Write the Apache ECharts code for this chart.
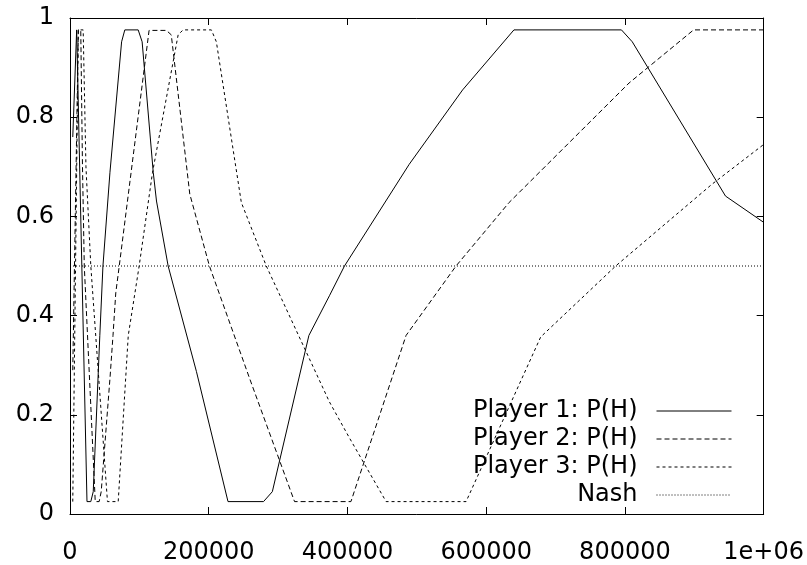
<!DOCTYPE html>
<html>
<head>
<meta charset="utf-8">
<script src="https://cdn.jsdelivr.net/npm/echarts@6/dist/echarts.min.js"></script>
<style>
html,body{margin:0;padding:0;background:#fff;}
#chart{width:807px;height:565px;}
</style>
</head>
<body>
<div id="chart"></div>
<script>
var seriesNames = ['Player 1: P(H)', 'Player 2: P(H)', 'Player 3: P(H)', 'Nash'];

var p1X = [4000, 9600, 24500, 30000, 33500, 43000, 47500, 57600, 74400, 79000, 98300, 104000, 120000, 124700, 141500, 182300, 227800, 279000, 291700, 344400, 374000, 395700, 489000, 566000, 640000, 795000, 810600, 945000, 1000000];
var p1Y = [0.76, 0.976, 0.025, 0.025, 0.045, 0.36, 0.5, 0.689, 0.952, 0.976, 0.976, 0.952, 0.689, 0.631, 0.5, 0.287, 0.025, 0.025, 0.045, 0.36, 0.44, 0.5, 0.705, 0.855, 0.976, 0.976, 0.952, 0.641, 0.588];

var p2X = [4000, 12000, 15500, 18000, 20600, 36400, 42000, 45000, 57600, 62000, 66000, 71000, 114000, 139000, 146000, 172700, 201000, 259000, 323700, 405000, 484500, 556500, 633000, 806000, 899000, 1000000];
var p2Y = [0.29, 0.976, 0.976, 0.7, 0.5, 0.025, 0.025, 0.045, 0.273, 0.36, 0.446, 0.5, 0.975, 0.975, 0.966, 0.645, 0.5, 0.273, 0.025, 0.025, 0.36, 0.5, 0.628, 0.869, 0.976, 0.976];

var p3X = [4000, 12000, 19000, 23000, 30000, 54000, 69500, 84000, 99700, 119000, 155900, 163000, 203800, 211000, 247000, 283000, 374000, 403000, 455700, 571000, 678600, 786700, 925600, 1000000];
var p3Y = [0.025, 0.976, 0.976, 0.7, 0.5, 0.025, 0.025, 0.36, 0.5, 0.689, 0.966, 0.976, 0.976, 0.952, 0.628, 0.5, 0.226, 0.153, 0.025, 0.025, 0.357, 0.5, 0.665, 0.745];

var nashX = [0, 1000000];
var nashY = [0.5, 0.5];

var xTickLabels = ['0', '200000', '400000', '600000', '800000', '1e+06'];
var yTickLabels = ['0', '0.2', '0.4', '0.6', '0.8', '1'];

function zip(xs, ys) {
  var out = [];
  for (var i = 0; i < xs.length; i++) out.push([xs[i], ys[i]]);
  return out;
}

var FONT = 'DejaVu Sans';
var chart = echarts.init(document.getElementById('chart'), null, {renderer: 'canvas'});

var axisLineStyle = {color: '#000', width: 1};
function xAxisDef(pos, showLabels) {
  return {
    type: 'value', position: pos, min: 0, max: 1000000, interval: 200000,
    axisLine: {show: true, onZero: false, lineStyle: axisLineStyle},
    axisTick: {show: true, inside: true, length: 7, lineStyle: axisLineStyle},
    splitLine: {show: false},
    axisLabel: {
      show: showLabels, margin: 27, color: '#000', fontFamily: FONT, fontSize: 24,
      formatter: function (v, i) { return xTickLabels[Math.round(v / 200000)]; }
    }
  };
}
function yAxisDef(pos, showLabels) {
  return {
    type: 'value', position: pos, min: 0, max: 1, interval: 0.2,
    axisLine: {show: true, onZero: false, lineStyle: axisLineStyle},
    axisTick: {show: true, inside: true, length: 7, lineStyle: axisLineStyle},
    splitLine: {show: false},
    axisLabel: {
      show: showLabels, margin: 16, color: '#000', fontFamily: FONT, fontSize: 24,
      formatter: function (v) { return yTickLabels[Math.round(v / 0.2)]; }
    }
  };
}

var lineTypes = ['solid', [5, 3], [3, 3], [1, 2]];
var datas = [zip(p1X, p1Y), zip(p2X, p2Y), zip(p3X, p3Y), zip(nashX, nashY)];
var legendTops = [399, 427, 455, 483];

var series = [];
var legends = [];
for (var k = 0; k < 4; k++) {
  series.push({
    name: seriesNames[k], type: 'line', data: datas[k],
    xAxisIndex: 0, yAxisIndex: 0,
    symbol: 'none', smooth: false, silent: true,
    lineStyle: {color: '#000', width: 1, type: lineTypes[k]},
    itemStyle: {color: '#000'}
  });
  legends.push({
    data: [seriesNames[k]], orient: 'vertical', align: 'right',
    right: 75, top: legendTops[k], padding: 0,
    itemWidth: 75, itemHeight: 14, selectedMode: false,
    itemStyle: {opacity: 0},
    lineStyle: {color: '#000', width: 1, type: lineTypes[k], opacity: 1},
    textStyle: {color: '#000', fontFamily: FONT, fontSize: 24, padding: [0, 14, 0, 0]}
  });
}

chart.setOption({
  animation: false,
  backgroundColor: '#fff',
  grid: {left: 70, right: 42, top: 18, bottom: 49, containLabel: false},
  xAxis: [xAxisDef('bottom', true), xAxisDef('top', false)],
  yAxis: [yAxisDef('left', true), yAxisDef('right', false)],
  legend: legends,
  series: series
});
</script>
</body>
</html>
